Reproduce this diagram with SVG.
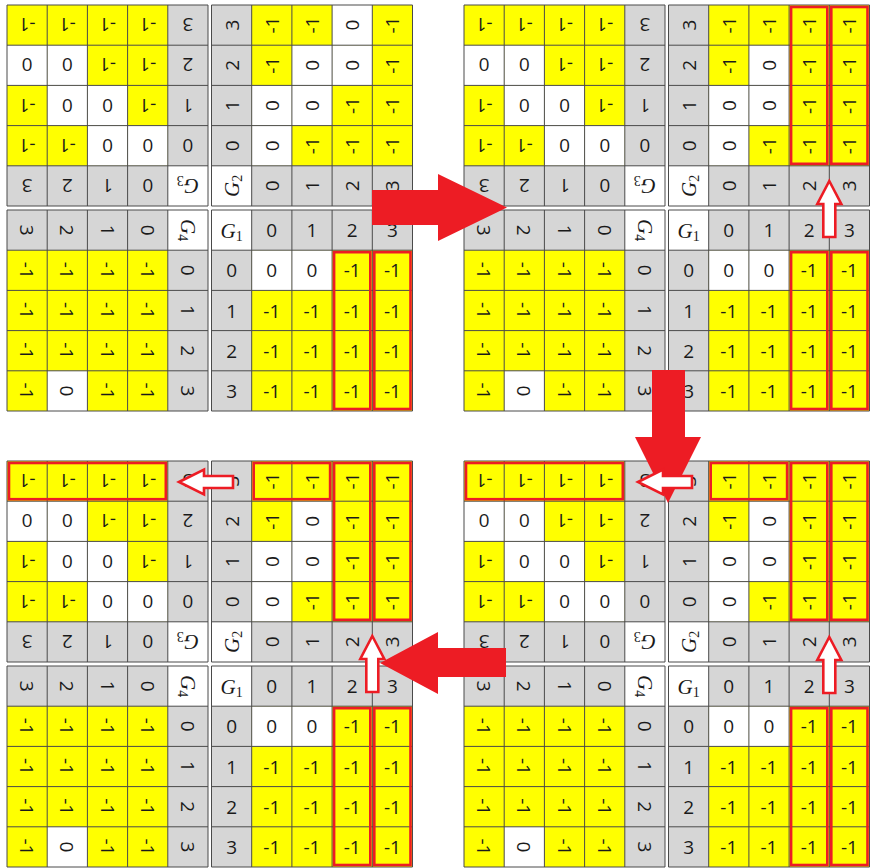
<svg xmlns="http://www.w3.org/2000/svg" xmlns:xlink="http://www.w3.org/1999/xlink" width="870" height="868" viewBox="0 0 870 868">
<style>
.hd{fill:#d6d6d6}
.w{fill:#ffffff}
.y{fill:#ffff00}
.gl{fill:none;stroke:#4a4a4a;stroke-width:1}
.t{font-family:"Open Sans","Liberation Sans",sans-serif;font-size:19px;fill:#1a1a1a;text-anchor:middle;dominant-baseline:central}
.g{font-family:"Liberation Serif","DejaVu Serif",serif;font-style:italic;font-size:21px;fill:#1a1a1a;text-anchor:middle}
.s{font-style:normal;font-size:14px}
.ol{fill:none;stroke:#ed1c24;stroke-width:2.6}
.big{fill:#ed1c24}
.wa{fill:#ffffff;stroke:#ed1c24;stroke-width:2.6;stroke-linejoin:miter}
</style>
<defs>
<path id="lines" class="gl" d="M0,0H201M0,40.2H201M0,80.4H201M0,120.6H201M0,160.8H201M0,201H201M0,0V201M40.2,0V201M80.4,0V201M120.6,0V201M160.8,0V201M201,0V201"/>
<path id="up" class="wa" d="M0,0L12,23H6V56H-6V23H-12Z"/>
<path id="left" class="wa" d="M0,0L25,-12.5V-6H54V6H25V12.5Z"/>
</defs>
<rect width="870" height="868" fill="#ffffff"/>

<!-- ===== Panel TL ===== -->
<g id="tl-g3" transform="translate(7,5) rotate(180 100.5 100.5)">
<rect class="hd" width="201" height="201"/><rect class="w" width="40.2" height="40.2"/><rect class="y" x="40.2" y="40.2" width="160.8" height="160.8"/>
<rect class="w" x="40.2" y="40.2" width="40.2" height="40.2"/><rect class="w" x="80.4" y="40.2" width="40.2" height="40.2"/><rect class="w" x="80.4" y="80.4" width="40.2" height="40.2"/><rect class="w" x="120.6" y="80.4" width="40.2" height="40.2"/><rect class="w" x="120.6" y="120.6" width="40.2" height="40.2"/><rect class="w" x="160.8" y="120.6" width="40.2" height="40.2"/>
<use href="#lines"/>
<text class="g" x="20.1" y="27.5">G<tspan class="s" dy="3">3</tspan></text>
<text class="t" x="60.3" y="20.1">0</text><text class="t" x="100.5" y="20.1">1</text><text class="t" x="140.7" y="20.1">2</text><text class="t" x="180.9" y="20.1">3</text>
<text class="t" x="20.1" y="60.3">0</text><text class="t" x="20.1" y="100.5">1</text><text class="t" x="20.1" y="140.7">2</text><text class="t" x="20.1" y="180.9">3</text>
<text class="t" x="60.3" y="60.3">0</text><text class="t" x="100.5" y="60.3">0</text><text class="t" x="140.7" y="60.3">-1</text><text class="t" x="180.9" y="60.3">-1</text>
<text class="t" x="60.3" y="100.5">-1</text><text class="t" x="100.5" y="100.5">0</text><text class="t" x="140.7" y="100.5">0</text><text class="t" x="180.9" y="100.5">-1</text>
<text class="t" x="60.3" y="140.7">-1</text><text class="t" x="100.5" y="140.7">-1</text><text class="t" x="140.7" y="140.7">0</text><text class="t" x="180.9" y="140.7">0</text>
<text class="t" x="60.3" y="180.9">-1</text><text class="t" x="100.5" y="180.9">-1</text><text class="t" x="140.7" y="180.9">-1</text><text class="t" x="180.9" y="180.9">-1</text>
</g>
<g id="tl-g2" transform="translate(211.5,5) rotate(-90 100.5 100.5)">
<rect class="hd" width="201" height="201"/><rect class="w" width="40.2" height="40.2"/><rect class="y" x="40.2" y="40.2" width="160.8" height="160.8"/>
<rect class="w" x="40.2" y="40.2" width="40.2" height="40.2"/><rect class="w" x="80.4" y="40.2" width="40.2" height="40.2"/><rect class="w" x="80.4" y="80.4" width="40.2" height="40.2"/><rect class="w" x="120.6" y="80.4" width="40.2" height="40.2"/><rect class="w" x="120.6" y="120.6" width="40.2" height="40.2"/><rect class="w" x="160.8" y="120.6" width="40.2" height="40.2"/>
<use href="#lines"/>
<text class="g" x="20.1" y="27.5">G<tspan class="s" dy="3">2</tspan></text>
<text class="t" x="60.3" y="20.1">0</text><text class="t" x="100.5" y="20.1">1</text><text class="t" x="140.7" y="20.1">2</text><text class="t" x="180.9" y="20.1">3</text>
<text class="t" x="20.1" y="60.3">0</text><text class="t" x="20.1" y="100.5">1</text><text class="t" x="20.1" y="140.7">2</text><text class="t" x="20.1" y="180.9">3</text>
<text class="t" x="60.3" y="60.3">0</text><text class="t" x="100.5" y="60.3">0</text><text class="t" x="140.7" y="60.3">-1</text><text class="t" x="180.9" y="60.3">-1</text>
<text class="t" x="60.3" y="100.5">-1</text><text class="t" x="100.5" y="100.5">0</text><text class="t" x="140.7" y="100.5">0</text><text class="t" x="180.9" y="100.5">-1</text>
<text class="t" x="60.3" y="140.7">-1</text><text class="t" x="100.5" y="140.7">-1</text><text class="t" x="140.7" y="140.7">0</text><text class="t" x="180.9" y="140.7">0</text>
<text class="t" x="60.3" y="180.9">-1</text><text class="t" x="100.5" y="180.9">-1</text><text class="t" x="140.7" y="180.9">-1</text><text class="t" x="180.9" y="180.9">-1</text>
</g>
<g id="tl-g4" transform="translate(7,210) rotate(90 100.5 100.5)">
<rect class="hd" width="201" height="201"/><rect class="w" width="40.2" height="40.2"/><rect class="y" x="40.2" y="40.2" width="160.8" height="160.8"/>
<rect class="w" x="160.8" y="120.6" width="40.2" height="40.2"/>
<use href="#lines"/>
<text class="g" x="20.1" y="27.5">G<tspan class="s" dy="3">4</tspan></text>
<text class="t" x="60.3" y="20.1">0</text><text class="t" x="100.5" y="20.1">1</text><text class="t" x="140.7" y="20.1">2</text><text class="t" x="180.9" y="20.1">3</text>
<text class="t" x="20.1" y="60.3">0</text><text class="t" x="20.1" y="100.5">1</text><text class="t" x="20.1" y="140.7">2</text><text class="t" x="20.1" y="180.9">3</text>
<text class="t" x="60.3" y="60.3">-1</text><text class="t" x="100.5" y="60.3">-1</text><text class="t" x="140.7" y="60.3">-1</text><text class="t" x="180.9" y="60.3">-1</text>
<text class="t" x="60.3" y="100.5">-1</text><text class="t" x="100.5" y="100.5">-1</text><text class="t" x="140.7" y="100.5">-1</text><text class="t" x="180.9" y="100.5">-1</text>
<text class="t" x="60.3" y="140.7">-1</text><text class="t" x="100.5" y="140.7">-1</text><text class="t" x="140.7" y="140.7">-1</text><text class="t" x="180.9" y="140.7">0</text>
<text class="t" x="60.3" y="180.9">-1</text><text class="t" x="100.5" y="180.9">-1</text><text class="t" x="140.7" y="180.9">-1</text><text class="t" x="180.9" y="180.9">-1</text>
</g>
<g id="tl-g1" transform="translate(211.5,210)">
<rect class="hd" width="201" height="201"/><rect class="w" width="40.2" height="40.2"/><rect class="y" x="40.2" y="40.2" width="160.8" height="160.8"/>
<rect class="w" x="40.2" y="40.2" width="40.2" height="40.2"/><rect class="w" x="80.4" y="40.2" width="40.2" height="40.2"/>
<use href="#lines"/>
<text class="g" x="20.1" y="27.5">G<tspan class="s" dy="3">1</tspan></text>
<text class="t" x="60.3" y="20.1">0</text><text class="t" x="100.5" y="20.1">1</text><text class="t" x="140.7" y="20.1">2</text><text class="t" x="180.9" y="20.1">3</text>
<text class="t" x="20.1" y="60.3">0</text><text class="t" x="20.1" y="100.5">1</text><text class="t" x="20.1" y="140.7">2</text><text class="t" x="20.1" y="180.9">3</text>
<text class="t" x="60.3" y="60.3">0</text><text class="t" x="100.5" y="60.3">0</text><text class="t" x="140.7" y="60.3">-1</text><text class="t" x="180.9" y="60.3">-1</text>
<text class="t" x="60.3" y="100.5">-1</text><text class="t" x="100.5" y="100.5">-1</text><text class="t" x="140.7" y="100.5">-1</text><text class="t" x="180.9" y="100.5">-1</text>
<text class="t" x="60.3" y="140.7">-1</text><text class="t" x="100.5" y="140.7">-1</text><text class="t" x="140.7" y="140.7">-1</text><text class="t" x="180.9" y="140.7">-1</text>
<text class="t" x="60.3" y="180.9">-1</text><text class="t" x="100.5" y="180.9">-1</text><text class="t" x="140.7" y="180.9">-1</text><text class="t" x="180.9" y="180.9">-1</text>
</g>

<!-- ===== Panel TR ===== -->
<g id="tr-g3" transform="translate(464,5) rotate(180 100.5 100.5)">
<rect class="hd" width="201" height="201"/><rect class="w" width="40.2" height="40.2"/><rect class="y" x="40.2" y="40.2" width="160.8" height="160.8"/>
<rect class="w" x="40.2" y="40.2" width="40.2" height="40.2"/><rect class="w" x="80.4" y="40.2" width="40.2" height="40.2"/><rect class="w" x="80.4" y="80.4" width="40.2" height="40.2"/><rect class="w" x="120.6" y="80.4" width="40.2" height="40.2"/><rect class="w" x="120.6" y="120.6" width="40.2" height="40.2"/><rect class="w" x="160.8" y="120.6" width="40.2" height="40.2"/>
<use href="#lines"/>
<text class="g" x="20.1" y="27.5">G<tspan class="s" dy="3">3</tspan></text>
<text class="t" x="60.3" y="20.1">0</text><text class="t" x="100.5" y="20.1">1</text><text class="t" x="140.7" y="20.1">2</text><text class="t" x="180.9" y="20.1">3</text>
<text class="t" x="20.1" y="60.3">0</text><text class="t" x="20.1" y="100.5">1</text><text class="t" x="20.1" y="140.7">2</text><text class="t" x="20.1" y="180.9">3</text>
<text class="t" x="60.3" y="60.3">0</text><text class="t" x="100.5" y="60.3">0</text><text class="t" x="140.7" y="60.3">-1</text><text class="t" x="180.9" y="60.3">-1</text>
<text class="t" x="60.3" y="100.5">-1</text><text class="t" x="100.5" y="100.5">0</text><text class="t" x="140.7" y="100.5">0</text><text class="t" x="180.9" y="100.5">-1</text>
<text class="t" x="60.3" y="140.7">-1</text><text class="t" x="100.5" y="140.7">-1</text><text class="t" x="140.7" y="140.7">0</text><text class="t" x="180.9" y="140.7">0</text>
<text class="t" x="60.3" y="180.9">-1</text><text class="t" x="100.5" y="180.9">-1</text><text class="t" x="140.7" y="180.9">-1</text><text class="t" x="180.9" y="180.9">-1</text>
</g>
<g id="tr-g2" transform="translate(668.5,5) rotate(-90 100.5 100.5)">
<rect class="hd" width="201" height="201"/><rect class="w" width="40.2" height="40.2"/><rect class="y" x="40.2" y="40.2" width="160.8" height="160.8"/>
<rect class="w" x="40.2" y="40.2" width="40.2" height="40.2"/><rect class="w" x="80.4" y="40.2" width="40.2" height="40.2"/><rect class="w" x="80.4" y="80.4" width="40.2" height="40.2"/><rect class="w" x="120.6" y="80.4" width="40.2" height="40.2"/>
<use href="#lines"/>
<text class="g" x="20.1" y="27.5">G<tspan class="s" dy="3">2</tspan></text>
<text class="t" x="60.3" y="20.1">0</text><text class="t" x="100.5" y="20.1">1</text><text class="t" x="140.7" y="20.1">2</text><text class="t" x="180.9" y="20.1">3</text>
<text class="t" x="20.1" y="60.3">0</text><text class="t" x="20.1" y="100.5">1</text><text class="t" x="20.1" y="140.7">2</text><text class="t" x="20.1" y="180.9">3</text>
<text class="t" x="60.3" y="60.3">0</text><text class="t" x="100.5" y="60.3">0</text><text class="t" x="140.7" y="60.3">-1</text><text class="t" x="180.9" y="60.3">-1</text>
<text class="t" x="60.3" y="100.5">-1</text><text class="t" x="100.5" y="100.5">0</text><text class="t" x="140.7" y="100.5">0</text><text class="t" x="180.9" y="100.5">-1</text>
<text class="t" x="60.3" y="140.7">-1</text><text class="t" x="100.5" y="140.7">-1</text><text class="t" x="140.7" y="140.7">-1</text><text class="t" x="180.9" y="140.7">-1</text>
<text class="t" x="60.3" y="180.9">-1</text><text class="t" x="100.5" y="180.9">-1</text><text class="t" x="140.7" y="180.9">-1</text><text class="t" x="180.9" y="180.9">-1</text>
</g>
<g id="tr-g4" transform="translate(464,210) rotate(90 100.5 100.5)">
<rect class="hd" width="201" height="201"/><rect class="w" width="40.2" height="40.2"/><rect class="y" x="40.2" y="40.2" width="160.8" height="160.8"/>
<rect class="w" x="160.8" y="120.6" width="40.2" height="40.2"/>
<use href="#lines"/>
<text class="g" x="20.1" y="27.5">G<tspan class="s" dy="3">4</tspan></text>
<text class="t" x="60.3" y="20.1">0</text><text class="t" x="100.5" y="20.1">1</text><text class="t" x="140.7" y="20.1">2</text><text class="t" x="180.9" y="20.1">3</text>
<text class="t" x="20.1" y="60.3">0</text><text class="t" x="20.1" y="100.5">1</text><text class="t" x="20.1" y="140.7">2</text><text class="t" x="20.1" y="180.9">3</text>
<text class="t" x="60.3" y="60.3">-1</text><text class="t" x="100.5" y="60.3">-1</text><text class="t" x="140.7" y="60.3">-1</text><text class="t" x="180.9" y="60.3">-1</text>
<text class="t" x="60.3" y="100.5">-1</text><text class="t" x="100.5" y="100.5">-1</text><text class="t" x="140.7" y="100.5">-1</text><text class="t" x="180.9" y="100.5">-1</text>
<text class="t" x="60.3" y="140.7">-1</text><text class="t" x="100.5" y="140.7">-1</text><text class="t" x="140.7" y="140.7">-1</text><text class="t" x="180.9" y="140.7">0</text>
<text class="t" x="60.3" y="180.9">-1</text><text class="t" x="100.5" y="180.9">-1</text><text class="t" x="140.7" y="180.9">-1</text><text class="t" x="180.9" y="180.9">-1</text>
</g>
<g id="tr-g1" transform="translate(668.5,210)">
<rect class="hd" width="201" height="201"/><rect class="w" width="40.2" height="40.2"/><rect class="y" x="40.2" y="40.2" width="160.8" height="160.8"/>
<rect class="w" x="40.2" y="40.2" width="40.2" height="40.2"/><rect class="w" x="80.4" y="40.2" width="40.2" height="40.2"/>
<use href="#lines"/>
<text class="g" x="20.1" y="27.5">G<tspan class="s" dy="3">1</tspan></text>
<text class="t" x="60.3" y="20.1">0</text><text class="t" x="100.5" y="20.1">1</text><text class="t" x="140.7" y="20.1">2</text><text class="t" x="180.9" y="20.1">3</text>
<text class="t" x="20.1" y="60.3">0</text><text class="t" x="20.1" y="100.5">1</text><text class="t" x="20.1" y="140.7">2</text><text class="t" x="20.1" y="180.9">3</text>
<text class="t" x="60.3" y="60.3">0</text><text class="t" x="100.5" y="60.3">0</text><text class="t" x="140.7" y="60.3">-1</text><text class="t" x="180.9" y="60.3">-1</text>
<text class="t" x="60.3" y="100.5">-1</text><text class="t" x="100.5" y="100.5">-1</text><text class="t" x="140.7" y="100.5">-1</text><text class="t" x="180.9" y="100.5">-1</text>
<text class="t" x="60.3" y="140.7">-1</text><text class="t" x="100.5" y="140.7">-1</text><text class="t" x="140.7" y="140.7">-1</text><text class="t" x="180.9" y="140.7">-1</text>
<text class="t" x="60.3" y="180.9">-1</text><text class="t" x="100.5" y="180.9">-1</text><text class="t" x="140.7" y="180.9">-1</text><text class="t" x="180.9" y="180.9">-1</text>
</g>

<!-- ===== Panel BL ===== -->
<g id="bl-g3" transform="translate(7,461) rotate(180 100.5 100.5)">
<rect class="hd" width="201" height="201"/><rect class="w" width="40.2" height="40.2"/><rect class="y" x="40.2" y="40.2" width="160.8" height="160.8"/>
<rect class="w" x="40.2" y="40.2" width="40.2" height="40.2"/><rect class="w" x="80.4" y="40.2" width="40.2" height="40.2"/><rect class="w" x="80.4" y="80.4" width="40.2" height="40.2"/><rect class="w" x="120.6" y="80.4" width="40.2" height="40.2"/><rect class="w" x="120.6" y="120.6" width="40.2" height="40.2"/><rect class="w" x="160.8" y="120.6" width="40.2" height="40.2"/>
<use href="#lines"/>
<text class="g" x="20.1" y="27.5">G<tspan class="s" dy="3">3</tspan></text>
<text class="t" x="60.3" y="20.1">0</text><text class="t" x="100.5" y="20.1">1</text><text class="t" x="140.7" y="20.1">2</text><text class="t" x="180.9" y="20.1">3</text>
<text class="t" x="20.1" y="60.3">0</text><text class="t" x="20.1" y="100.5">1</text><text class="t" x="20.1" y="140.7">2</text><text class="t" x="20.1" y="180.9">3</text>
<text class="t" x="60.3" y="60.3">0</text><text class="t" x="100.5" y="60.3">0</text><text class="t" x="140.7" y="60.3">-1</text><text class="t" x="180.9" y="60.3">-1</text>
<text class="t" x="60.3" y="100.5">-1</text><text class="t" x="100.5" y="100.5">0</text><text class="t" x="140.7" y="100.5">0</text><text class="t" x="180.9" y="100.5">-1</text>
<text class="t" x="60.3" y="140.7">-1</text><text class="t" x="100.5" y="140.7">-1</text><text class="t" x="140.7" y="140.7">0</text><text class="t" x="180.9" y="140.7">0</text>
<text class="t" x="60.3" y="180.9">-1</text><text class="t" x="100.5" y="180.9">-1</text><text class="t" x="140.7" y="180.9">-1</text><text class="t" x="180.9" y="180.9">-1</text>
</g>
<g id="bl-g2" transform="translate(211.5,461) rotate(-90 100.5 100.5)">
<rect class="hd" width="201" height="201"/><rect class="w" width="40.2" height="40.2"/><rect class="y" x="40.2" y="40.2" width="160.8" height="160.8"/>
<rect class="w" x="40.2" y="40.2" width="40.2" height="40.2"/><rect class="w" x="80.4" y="40.2" width="40.2" height="40.2"/><rect class="w" x="80.4" y="80.4" width="40.2" height="40.2"/><rect class="w" x="120.6" y="80.4" width="40.2" height="40.2"/>
<use href="#lines"/>
<text class="g" x="20.1" y="27.5">G<tspan class="s" dy="3">2</tspan></text>
<text class="t" x="60.3" y="20.1">0</text><text class="t" x="100.5" y="20.1">1</text><text class="t" x="140.7" y="20.1">2</text><text class="t" x="180.9" y="20.1">3</text>
<text class="t" x="20.1" y="60.3">0</text><text class="t" x="20.1" y="100.5">1</text><text class="t" x="20.1" y="140.7">2</text><text class="t" x="20.1" y="180.9">3</text>
<text class="t" x="60.3" y="60.3">0</text><text class="t" x="100.5" y="60.3">0</text><text class="t" x="140.7" y="60.3">-1</text><text class="t" x="180.9" y="60.3">-1</text>
<text class="t" x="60.3" y="100.5">-1</text><text class="t" x="100.5" y="100.5">0</text><text class="t" x="140.7" y="100.5">0</text><text class="t" x="180.9" y="100.5">-1</text>
<text class="t" x="60.3" y="140.7">-1</text><text class="t" x="100.5" y="140.7">-1</text><text class="t" x="140.7" y="140.7">-1</text><text class="t" x="180.9" y="140.7">-1</text>
<text class="t" x="60.3" y="180.9">-1</text><text class="t" x="100.5" y="180.9">-1</text><text class="t" x="140.7" y="180.9">-1</text><text class="t" x="180.9" y="180.9">-1</text>
</g>
<g id="bl-g4" transform="translate(7,666) rotate(90 100.5 100.5)">
<rect class="hd" width="201" height="201"/><rect class="w" width="40.2" height="40.2"/><rect class="y" x="40.2" y="40.2" width="160.8" height="160.8"/>
<rect class="w" x="160.8" y="120.6" width="40.2" height="40.2"/>
<use href="#lines"/>
<text class="g" x="20.1" y="27.5">G<tspan class="s" dy="3">4</tspan></text>
<text class="t" x="60.3" y="20.1">0</text><text class="t" x="100.5" y="20.1">1</text><text class="t" x="140.7" y="20.1">2</text><text class="t" x="180.9" y="20.1">3</text>
<text class="t" x="20.1" y="60.3">0</text><text class="t" x="20.1" y="100.5">1</text><text class="t" x="20.1" y="140.7">2</text><text class="t" x="20.1" y="180.9">3</text>
<text class="t" x="60.3" y="60.3">-1</text><text class="t" x="100.5" y="60.3">-1</text><text class="t" x="140.7" y="60.3">-1</text><text class="t" x="180.9" y="60.3">-1</text>
<text class="t" x="60.3" y="100.5">-1</text><text class="t" x="100.5" y="100.5">-1</text><text class="t" x="140.7" y="100.5">-1</text><text class="t" x="180.9" y="100.5">-1</text>
<text class="t" x="60.3" y="140.7">-1</text><text class="t" x="100.5" y="140.7">-1</text><text class="t" x="140.7" y="140.7">-1</text><text class="t" x="180.9" y="140.7">0</text>
<text class="t" x="60.3" y="180.9">-1</text><text class="t" x="100.5" y="180.9">-1</text><text class="t" x="140.7" y="180.9">-1</text><text class="t" x="180.9" y="180.9">-1</text>
</g>
<g id="bl-g1" transform="translate(211.5,666)">
<rect class="hd" width="201" height="201"/><rect class="w" width="40.2" height="40.2"/><rect class="y" x="40.2" y="40.2" width="160.8" height="160.8"/>
<rect class="w" x="40.2" y="40.2" width="40.2" height="40.2"/><rect class="w" x="80.4" y="40.2" width="40.2" height="40.2"/>
<use href="#lines"/>
<text class="g" x="20.1" y="27.5">G<tspan class="s" dy="3">1</tspan></text>
<text class="t" x="60.3" y="20.1">0</text><text class="t" x="100.5" y="20.1">1</text><text class="t" x="140.7" y="20.1">2</text><text class="t" x="180.9" y="20.1">3</text>
<text class="t" x="20.1" y="60.3">0</text><text class="t" x="20.1" y="100.5">1</text><text class="t" x="20.1" y="140.7">2</text><text class="t" x="20.1" y="180.9">3</text>
<text class="t" x="60.3" y="60.3">0</text><text class="t" x="100.5" y="60.3">0</text><text class="t" x="140.7" y="60.3">-1</text><text class="t" x="180.9" y="60.3">-1</text>
<text class="t" x="60.3" y="100.5">-1</text><text class="t" x="100.5" y="100.5">-1</text><text class="t" x="140.7" y="100.5">-1</text><text class="t" x="180.9" y="100.5">-1</text>
<text class="t" x="60.3" y="140.7">-1</text><text class="t" x="100.5" y="140.7">-1</text><text class="t" x="140.7" y="140.7">-1</text><text class="t" x="180.9" y="140.7">-1</text>
<text class="t" x="60.3" y="180.9">-1</text><text class="t" x="100.5" y="180.9">-1</text><text class="t" x="140.7" y="180.9">-1</text><text class="t" x="180.9" y="180.9">-1</text>
</g>

<!-- ===== Panel BR ===== -->
<g id="br-g3" transform="translate(464,461) rotate(180 100.5 100.5)">
<rect class="hd" width="201" height="201"/><rect class="w" width="40.2" height="40.2"/><rect class="y" x="40.2" y="40.2" width="160.8" height="160.8"/>
<rect class="w" x="40.2" y="40.2" width="40.2" height="40.2"/><rect class="w" x="80.4" y="40.2" width="40.2" height="40.2"/><rect class="w" x="80.4" y="80.4" width="40.2" height="40.2"/><rect class="w" x="120.6" y="80.4" width="40.2" height="40.2"/><rect class="w" x="120.6" y="120.6" width="40.2" height="40.2"/><rect class="w" x="160.8" y="120.6" width="40.2" height="40.2"/>
<use href="#lines"/>
<text class="g" x="20.1" y="27.5">G<tspan class="s" dy="3">3</tspan></text>
<text class="t" x="60.3" y="20.1">0</text><text class="t" x="100.5" y="20.1">1</text><text class="t" x="140.7" y="20.1">2</text><text class="t" x="180.9" y="20.1">3</text>
<text class="t" x="20.1" y="60.3">0</text><text class="t" x="20.1" y="100.5">1</text><text class="t" x="20.1" y="140.7">2</text><text class="t" x="20.1" y="180.9">3</text>
<text class="t" x="60.3" y="60.3">0</text><text class="t" x="100.5" y="60.3">0</text><text class="t" x="140.7" y="60.3">-1</text><text class="t" x="180.9" y="60.3">-1</text>
<text class="t" x="60.3" y="100.5">-1</text><text class="t" x="100.5" y="100.5">0</text><text class="t" x="140.7" y="100.5">0</text><text class="t" x="180.9" y="100.5">-1</text>
<text class="t" x="60.3" y="140.7">-1</text><text class="t" x="100.5" y="140.7">-1</text><text class="t" x="140.7" y="140.7">0</text><text class="t" x="180.9" y="140.7">0</text>
<text class="t" x="60.3" y="180.9">-1</text><text class="t" x="100.5" y="180.9">-1</text><text class="t" x="140.7" y="180.9">-1</text><text class="t" x="180.9" y="180.9">-1</text>
</g>
<g id="br-g2" transform="translate(668.5,461) rotate(-90 100.5 100.5)">
<rect class="hd" width="201" height="201"/><rect class="w" width="40.2" height="40.2"/><rect class="y" x="40.2" y="40.2" width="160.8" height="160.8"/>
<rect class="w" x="40.2" y="40.2" width="40.2" height="40.2"/><rect class="w" x="80.4" y="40.2" width="40.2" height="40.2"/><rect class="w" x="80.4" y="80.4" width="40.2" height="40.2"/><rect class="w" x="120.6" y="80.4" width="40.2" height="40.2"/>
<use href="#lines"/>
<text class="g" x="20.1" y="27.5">G<tspan class="s" dy="3">2</tspan></text>
<text class="t" x="60.3" y="20.1">0</text><text class="t" x="100.5" y="20.1">1</text><text class="t" x="140.7" y="20.1">2</text><text class="t" x="180.9" y="20.1">3</text>
<text class="t" x="20.1" y="60.3">0</text><text class="t" x="20.1" y="100.5">1</text><text class="t" x="20.1" y="140.7">2</text><text class="t" x="20.1" y="180.9">3</text>
<text class="t" x="60.3" y="60.3">0</text><text class="t" x="100.5" y="60.3">0</text><text class="t" x="140.7" y="60.3">-1</text><text class="t" x="180.9" y="60.3">-1</text>
<text class="t" x="60.3" y="100.5">-1</text><text class="t" x="100.5" y="100.5">0</text><text class="t" x="140.7" y="100.5">0</text><text class="t" x="180.9" y="100.5">-1</text>
<text class="t" x="60.3" y="140.7">-1</text><text class="t" x="100.5" y="140.7">-1</text><text class="t" x="140.7" y="140.7">-1</text><text class="t" x="180.9" y="140.7">-1</text>
<text class="t" x="60.3" y="180.9">-1</text><text class="t" x="100.5" y="180.9">-1</text><text class="t" x="140.7" y="180.9">-1</text><text class="t" x="180.9" y="180.9">-1</text>
</g>
<g id="br-g4" transform="translate(464,666) rotate(90 100.5 100.5)">
<rect class="hd" width="201" height="201"/><rect class="w" width="40.2" height="40.2"/><rect class="y" x="40.2" y="40.2" width="160.8" height="160.8"/>
<rect class="w" x="160.8" y="120.6" width="40.2" height="40.2"/>
<use href="#lines"/>
<text class="g" x="20.1" y="27.5">G<tspan class="s" dy="3">4</tspan></text>
<text class="t" x="60.3" y="20.1">0</text><text class="t" x="100.5" y="20.1">1</text><text class="t" x="140.7" y="20.1">2</text><text class="t" x="180.9" y="20.1">3</text>
<text class="t" x="20.1" y="60.3">0</text><text class="t" x="20.1" y="100.5">1</text><text class="t" x="20.1" y="140.7">2</text><text class="t" x="20.1" y="180.9">3</text>
<text class="t" x="60.3" y="60.3">-1</text><text class="t" x="100.5" y="60.3">-1</text><text class="t" x="140.7" y="60.3">-1</text><text class="t" x="180.9" y="60.3">-1</text>
<text class="t" x="60.3" y="100.5">-1</text><text class="t" x="100.5" y="100.5">-1</text><text class="t" x="140.7" y="100.5">-1</text><text class="t" x="180.9" y="100.5">-1</text>
<text class="t" x="60.3" y="140.7">-1</text><text class="t" x="100.5" y="140.7">-1</text><text class="t" x="140.7" y="140.7">-1</text><text class="t" x="180.9" y="140.7">0</text>
<text class="t" x="60.3" y="180.9">-1</text><text class="t" x="100.5" y="180.9">-1</text><text class="t" x="140.7" y="180.9">-1</text><text class="t" x="180.9" y="180.9">-1</text>
</g>
<g id="br-g1" transform="translate(668.5,666)">
<rect class="hd" width="201" height="201"/><rect class="w" width="40.2" height="40.2"/><rect class="y" x="40.2" y="40.2" width="160.8" height="160.8"/>
<rect class="w" x="40.2" y="40.2" width="40.2" height="40.2"/><rect class="w" x="80.4" y="40.2" width="40.2" height="40.2"/>
<use href="#lines"/>
<text class="g" x="20.1" y="27.5">G<tspan class="s" dy="3">1</tspan></text>
<text class="t" x="60.3" y="20.1">0</text><text class="t" x="100.5" y="20.1">1</text><text class="t" x="140.7" y="20.1">2</text><text class="t" x="180.9" y="20.1">3</text>
<text class="t" x="20.1" y="60.3">0</text><text class="t" x="20.1" y="100.5">1</text><text class="t" x="20.1" y="140.7">2</text><text class="t" x="20.1" y="180.9">3</text>
<text class="t" x="60.3" y="60.3">0</text><text class="t" x="100.5" y="60.3">0</text><text class="t" x="140.7" y="60.3">-1</text><text class="t" x="180.9" y="60.3">-1</text>
<text class="t" x="60.3" y="100.5">-1</text><text class="t" x="100.5" y="100.5">-1</text><text class="t" x="140.7" y="100.5">-1</text><text class="t" x="180.9" y="100.5">-1</text>
<text class="t" x="60.3" y="140.7">-1</text><text class="t" x="100.5" y="140.7">-1</text><text class="t" x="140.7" y="140.7">-1</text><text class="t" x="180.9" y="140.7">-1</text>
<text class="t" x="60.3" y="180.9">-1</text><text class="t" x="100.5" y="180.9">-1</text><text class="t" x="140.7" y="180.9">-1</text><text class="t" x="180.9" y="180.9">-1</text>
</g>

<!-- ===== Highlights ===== -->
<g id="highlights">
<rect class="ol" x="334.1" y="252.2" width="36.2" height="156.8"/><rect class="ol" x="374.3" y="252.2" width="36.2" height="156.8"/>
<rect class="ol" x="791.1" y="252.2" width="36.2" height="156.8"/><rect class="ol" x="831.3" y="252.2" width="36.2" height="156.8"/>
<rect class="ol" x="791.1" y="7" width="36.2" height="156.8"/><rect class="ol" x="831.3" y="7" width="36.2" height="156.8"/>
<rect class="ol" x="334.1" y="708.2" width="36.2" height="156.8"/><rect class="ol" x="374.3" y="708.2" width="36.2" height="156.8"/>
<rect class="ol" x="334.1" y="463" width="36.2" height="156.8"/><rect class="ol" x="374.3" y="463" width="36.2" height="156.8"/>
<rect class="ol" x="253.7" y="463" width="76.4" height="36.2"/>
<rect class="ol" x="9" y="463" width="156.8" height="36.2"/>
<rect class="ol" x="791.1" y="708.2" width="36.2" height="156.8"/><rect class="ol" x="831.3" y="708.2" width="36.2" height="156.8"/>
<rect class="ol" x="791.1" y="463" width="36.2" height="156.8"/><rect class="ol" x="831.3" y="463" width="36.2" height="156.8"/>
<rect class="ol" x="710.7" y="463" width="76.4" height="36.2"/>
<rect class="ol" x="466" y="463" width="156.8" height="36.2"/>
</g>

<!-- ===== Connectors ===== -->
<g id="connectors">
<path class="big" d="M372,190H438V174L507,207.5L438,241V225H372Z"/>
<path class="big" d="M652,370H685V437H701L668,503L635,437H652Z"/>
<path class="big" d="M506,648V677H438V694L380,663L438,632V648Z"/>
<use href="#up" x="829.3" y="181"/>
<use href="#up" x="829.3" y="637"/>
<use href="#up" x="372.3" y="636"/>
<use href="#left" x="179" y="482"/>
<use href="#left" x="638" y="482"/>
</g>
</svg>
